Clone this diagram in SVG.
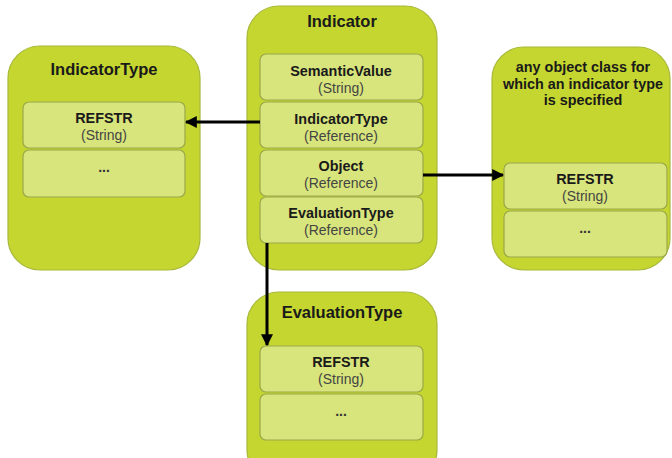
<svg xmlns="http://www.w3.org/2000/svg" width="672" height="458" viewBox="0 0 672 458">
<defs>
<style>
.cont{fill:#c4d62f;stroke:#a8b83a;stroke-width:1.2}
.box{fill:#d8e47c;stroke:#9aa84a;stroke-width:1.2}
.title{font-family:"Liberation Sans",Arial,sans-serif;font-size:16.5px;font-weight:bold;fill:#1a1a1a;text-anchor:middle}
.note{font-family:"Liberation Sans",Arial,sans-serif;font-size:14.4px;font-weight:bold;fill:#1a1a1a;text-anchor:middle}
.lbl{font-family:"Liberation Sans",Arial,sans-serif;font-size:14.4px;font-weight:bold;fill:#1a1a1a;text-anchor:middle}
.sub{font-family:"Liberation Sans",Arial,sans-serif;font-size:14px;fill:#444;text-anchor:middle}
.dots{font-family:"Liberation Sans",Arial,sans-serif;font-size:14px;font-weight:bold;fill:#333;text-anchor:middle}
.conn{stroke:#000;stroke-width:3;fill:none}
</style>
<marker id="ah" viewBox="0 0 10 10" refX="9" refY="5" markerWidth="4" markerHeight="4" orient="auto" markerUnits="strokeWidth">
<path d="M0,0 L10,5 L0,10 z" fill="#000"/>
</marker>
</defs>

<g id="indicatorType">
<rect class="cont" x="8" y="46" width="192" height="224" rx="32"/>
<text class="title" x="104" y="75">IndicatorType</text>
<rect class="box" x="23" y="102" width="162" height="46" rx="6"/>
<text class="lbl" x="104" y="123">REFSTR</text>
<text class="sub" x="104" y="140">(String)</text>
<rect class="box" x="23" y="150" width="162" height="47" rx="6"/>
<text class="dots" x="104" y="172">...</text>
</g>

<g id="indicator">
<rect class="cont" x="247" y="6" width="190" height="264" rx="32"/>
<text class="title" x="342" y="27">Indicator</text>
<rect class="box" x="260" y="54" width="163" height="46" rx="6"/>
<text class="lbl" x="341" y="76">SemanticValue</text>
<text class="sub" x="341" y="93">(String)</text>
<rect class="box" x="260" y="102" width="163" height="46" rx="6"/>
<text class="lbl" x="341" y="124">IndicatorType</text>
<text class="sub" x="341" y="141">(Reference)</text>
<rect class="box" x="260" y="150" width="163" height="46" rx="6"/>
<text class="lbl" x="341" y="171">Object</text>
<text class="sub" x="341" y="188">(Reference)</text>
<rect class="box" x="260" y="197" width="163" height="46" rx="6"/>
<text class="lbl" x="341" y="218">EvaluationType</text>
<text class="sub" x="341" y="235">(Reference)</text>
</g>

<g id="anyObjectClass">
<rect class="cont" x="492" y="47" width="178" height="223" rx="32"/>
<text class="note" x="583" y="72">any object class for</text>
<text class="note" x="583" y="89">which an indicator type</text>
<text class="note" x="583" y="105">is specified</text>
<rect class="box" x="504" y="163" width="163" height="46" rx="6"/>
<text class="lbl" x="585" y="184">REFSTR</text>
<text class="sub" x="585" y="201">(String)</text>
<rect class="box" x="504" y="211" width="163" height="46" rx="6"/>
<text class="dots" x="585" y="233">...</text>
</g>

<g id="evaluationType">
<rect class="cont" x="247" y="292" width="190" height="190" rx="32"/>
<text class="title" x="342" y="318">EvaluationType</text>
<rect class="box" x="260" y="346" width="163" height="46" rx="6"/>
<text class="lbl" x="341" y="367">REFSTR</text>
<text class="sub" x="341" y="384">(String)</text>
<rect class="box" x="260" y="394" width="163" height="46" rx="6"/>
<text class="dots" x="341" y="416">...</text>
</g>

<g id="connectors">
<line class="conn" x1="260" y1="122" x2="186" y2="122" marker-end="url(#ah)"/>
<line class="conn" x1="423" y1="175" x2="503" y2="175" marker-end="url(#ah)"/>
<line class="conn" x1="267" y1="243" x2="267" y2="345" marker-end="url(#ah)"/>
</g>
</svg>
